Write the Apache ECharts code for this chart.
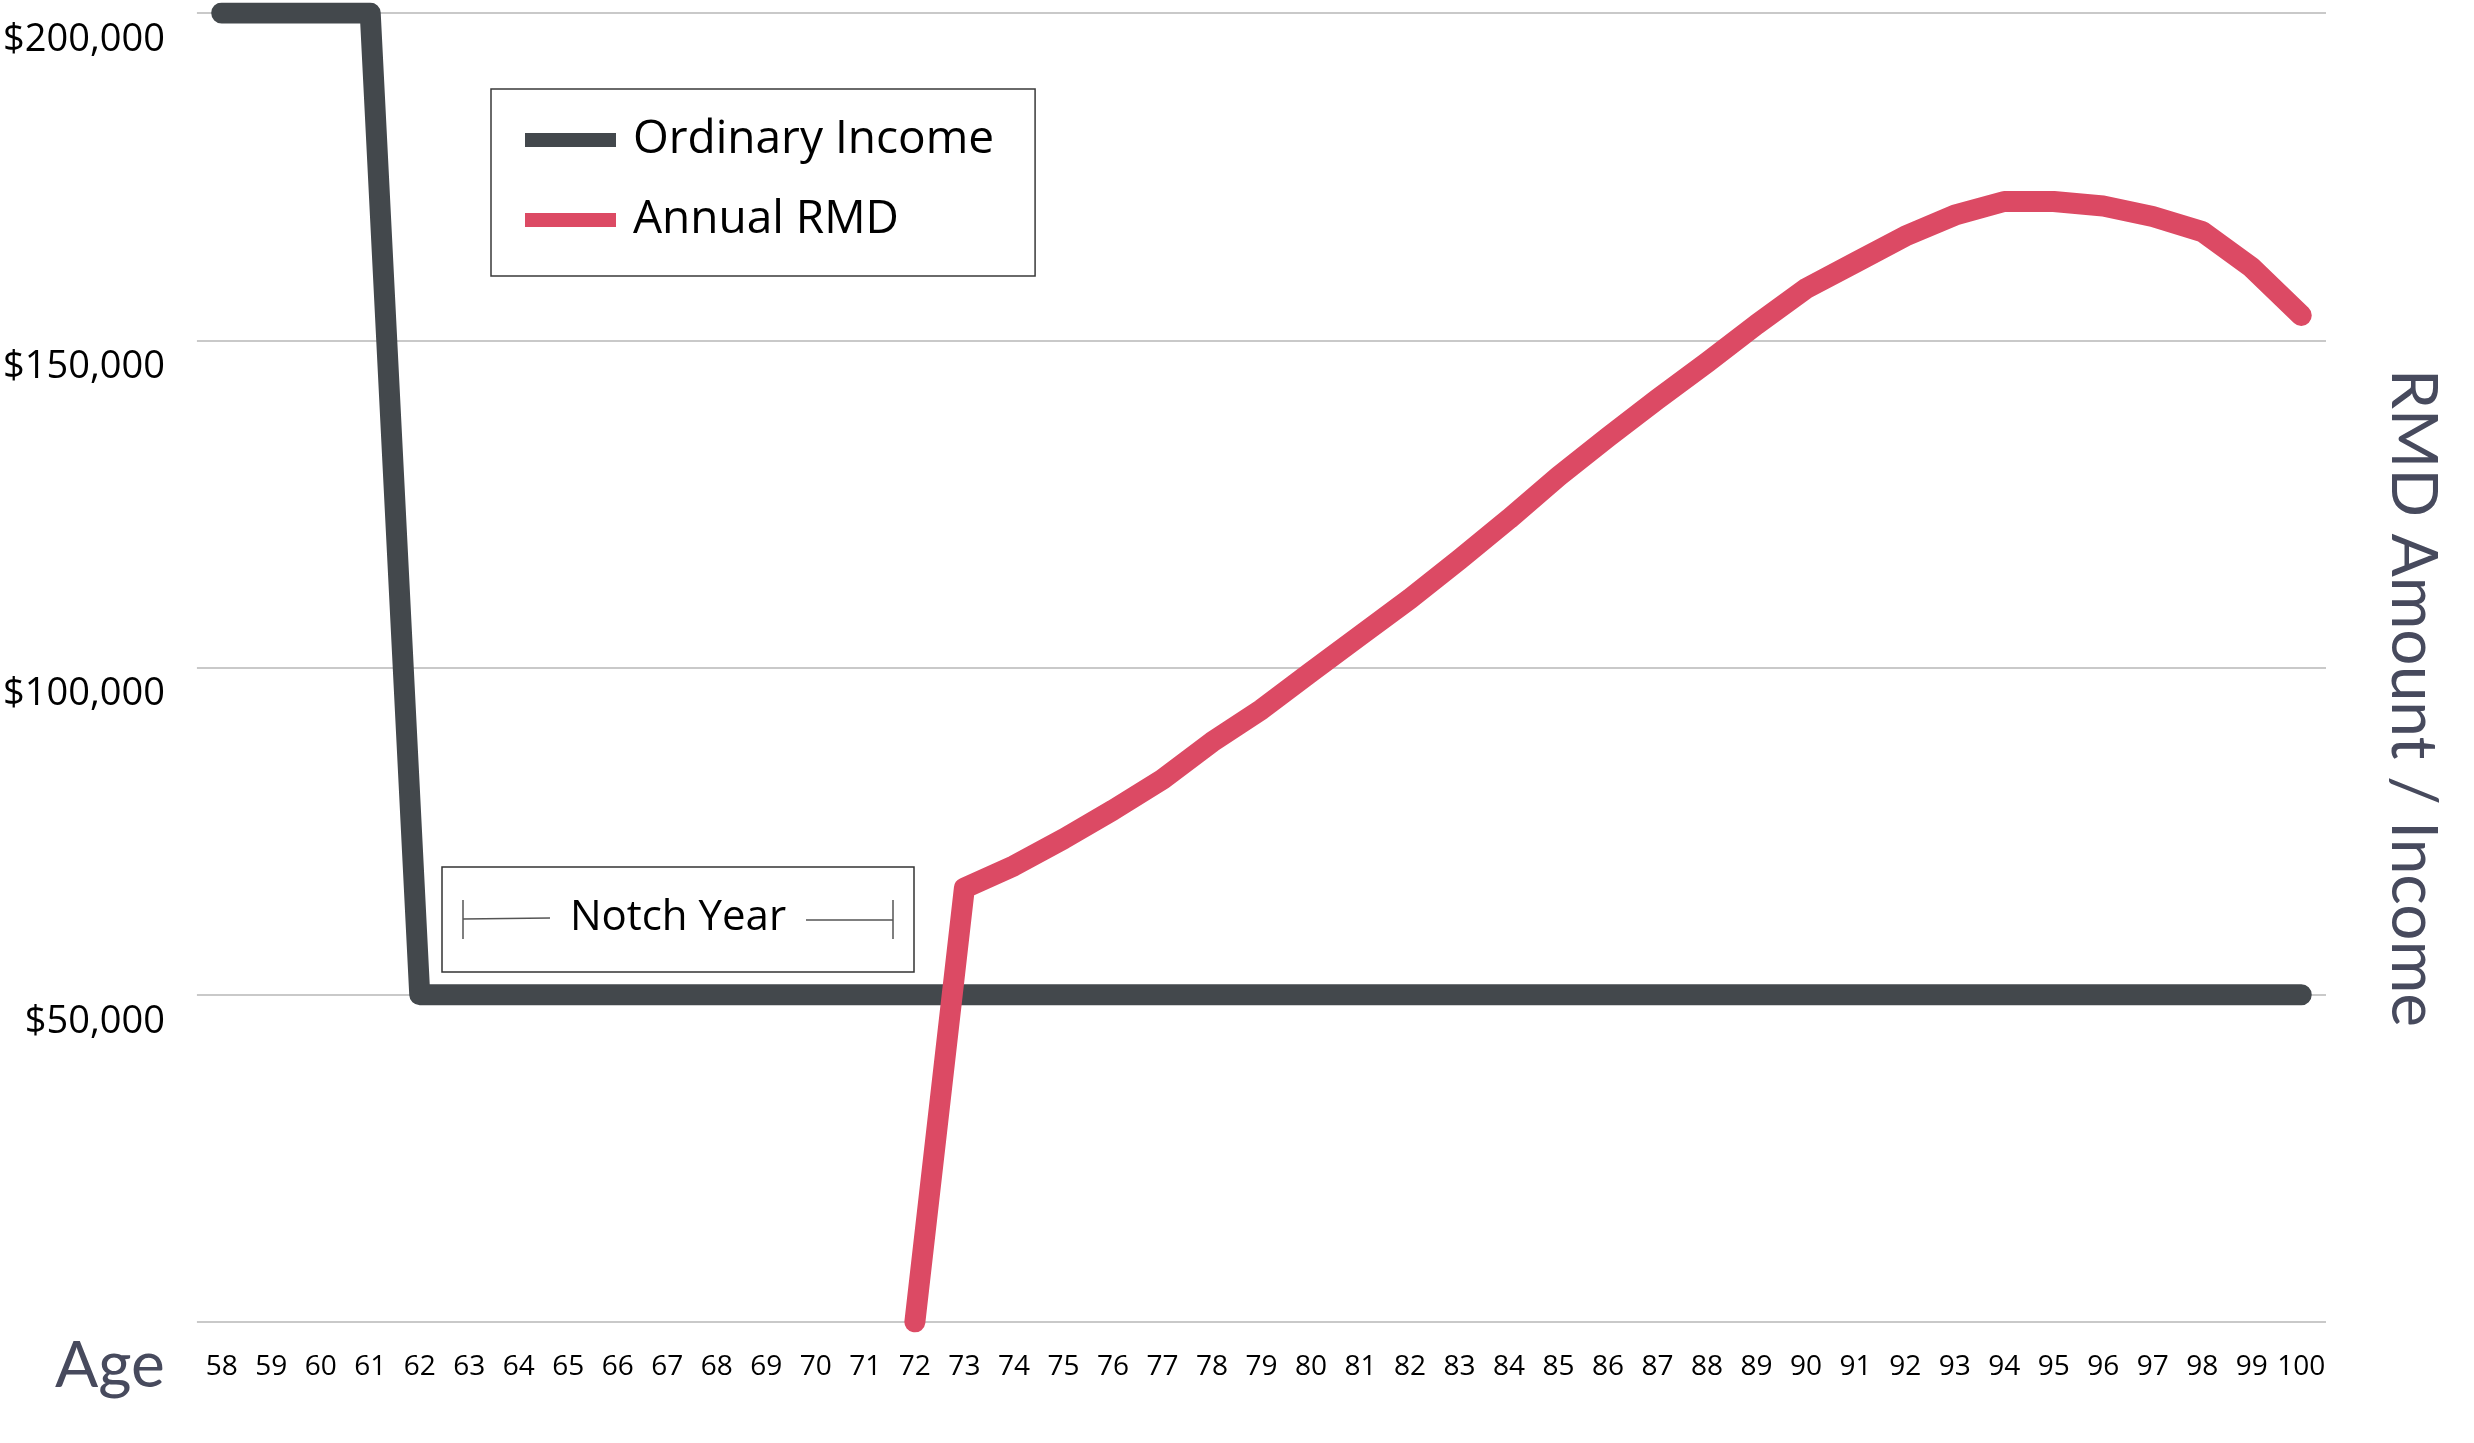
<!DOCTYPE html>
<html>
<head>
<meta charset="utf-8">
<title>RMD Amount / Income</title>
<script src="https://cdn.jsdelivr.net/npm/echarts@6/dist/echarts.min.js"></script>
<style>
  html, body { margin: 0; padding: 0; background: #fff; }
  #chart { width: 2474px; height: 1443px; }
</style>
</head>
<body>
<div id="chart"></div>
<script>
// ages on the x axis
let ages = ['58','59','60','61','62','63','64','65','66','67','68','69','70','71','72','73','74','75','76','77','78',
  '79','80','81','82','83','84','85','86','87','88','89','90','91','92','93','94','95','96','97','98','99','100']

let ordinaryIncome = [200000, 200000, 200000, 200000,
  50000, 50000, 50000, 50000, 50000, 50000, 50000, 50000, 50000, 50000,
  50000, 50000, 50000, 50000, 50000, 50000, 50000, 50000, 50000, 50000,
  50000, 50000, 50000, 50000, 50000, 50000, 50000, 50000, 50000, 50000,
  50000, 50000, 50000, 50000, 50000, 50000, 50000, 50000, 50000]

// nothing before 72
let annualRmd = [null, null, null, null, null, null, null, null, null, null, null, null, null, null,
  0, 66300, 69700, 73800, 78200, 82900, 88600, 93600, 99300, 104900, 110500,
  116500, 122700, 129200, 135200, 141000, 146600, 152400, 157900, 161900, 165900,
  169100, 171200, 171200, 170500, 168900, 166600, 161100, 153800]

let yTicks = [0, 50000, 100000, 150000, 200000]

let font = '"Open Sans", "Liberation Sans", sans-serif'
let titleFont = 'Lato, "Open Sans", sans-serif'
let darkColor = '#43484c'
let redColor = '#dc4a64'

var chart = echarts.init(document.getElementById('chart'))

function moneyLabel(v) {
  if (v === 0) return ''
  return '$' + v.toLocaleString('en-US')
}

let options = {
  animation: false,
  backgroundColor: '#fff',
  grid: {
    left: 195,
    right: 148,
    top: 13,
    bottom: 121
  },
  legend: {
    data: ['Ordinary Income', 'Annual RMD'],
    orient: 'vertical',
    left: 491,
    top: 89,
    icon: 'rect',
    itemWidth: 91,
    itemHeight: 14,
    itemGap: 30,
    padding: [26, 41, 31, 34],
    borderColor: '#3a3a3a',
    borderWidth: 1.5,
    backgroundColor: '#fff',
    textStyle: {
      fontFamily: font,
      fontSize: 46,
      lineHeight: 50,
      color: '#000',
      padding: [0, 0, 0, 12]
    }
  },
  xAxis: {
    type: 'category',
    data: ages,
    boundaryGap: true,
    axisLine: { show: false },
    axisTick: { show: false },
    splitLine: { show: false },
    axisLabel: {
      interval: 0,
      margin: 31,
      fontFamily: font,
      fontSize: 28,
      color: '#000'
    }
  },
  yAxis: {
    type: 'value',
    min: yTicks[0],
    max: yTicks[yTicks.length - 1],
    interval: 50000,
    axisLine: { show: false },
    axisTick: { show: false },
    splitLine: { lineStyle: { color: '#c9c9c9', width: 2 } },
    axisLabel: {
      formatter: moneyLabel,
      margin: 32,
      verticalAlign: 'top',
      padding: [8, 0, 0, 0],
      fontFamily: font,
      fontSize: 38,
      color: '#000'
    }
  },
  graphic: [
    // axis captions
    {
      type: 'text',
      left: 55,
      top: 1334,
      style: { text: 'Age', fontFamily: titleFont, fontSize: 64, fill: '#474a5d' }
    },
    {
      type: 'text',
      x: 2413,
      y: 698,
      rotation: -Math.PI / 2,
      style: {
        text: 'RMD Amount / Income', fontFamily: titleFont, fontSize: 64,
        fill: '#474a5d', align: 'center', verticalAlign: 'middle'
      }
    },
    // notch year box
    {
      type: 'group',
      children: [
        { type: 'rect', shape: { x: 442, y: 867, width: 472, height: 105 },
          style: { fill: '#fff', stroke: '#333', lineWidth: 1.5 } },
        { type: 'line', shape: { x1: 463, y1: 900, x2: 463, y2: 939 }, style: { stroke: '#555', lineWidth: 1.5 } },
        { type: 'line', shape: { x1: 463, y1: 919, x2: 550, y2: 918 }, style: { stroke: '#555', lineWidth: 1.5 } },
        { type: 'line', shape: { x1: 806, y1: 920, x2: 893, y2: 920 }, style: { stroke: '#555', lineWidth: 1.5 } },
        { type: 'line', shape: { x1: 893, y1: 900, x2: 893, y2: 939 }, style: { stroke: '#555', lineWidth: 1.5 } },
        { type: 'text', x: 678, y: 918,
          style: { text: 'Notch Year', fontFamily: font, fontSize: 42, fill: '#000', align: 'center', verticalAlign: 'middle' } }
      ]
    }
  ],
  series: [
    {
      name: 'Ordinary Income',
      type: 'line',
      data: ordinaryIncome,
      symbol: 'none',
      itemStyle: { color: darkColor },
      lineStyle: { color: darkColor, width: 21, cap: 'round', join: 'round' },
      z: 2
    },
    {
      name: 'Annual RMD',
      type: 'line',
      data: annualRmd,
      symbol: 'none',
      connectNulls: false,
      itemStyle: { color: redColor },
      lineStyle: { color: redColor, width: 21, cap: 'round', join: 'round' },
      z: 3
    }
  ]
}

chart.setOption(options)
</script>
</body>
</html>
